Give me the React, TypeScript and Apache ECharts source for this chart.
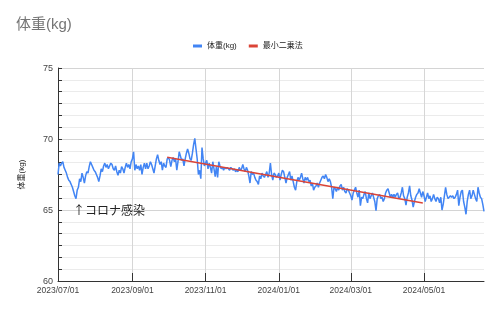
import React, { useEffect, useRef } from "react";
import * as echarts from "echarts";

// Daily body weight (kg), by month
const weightJul2023 = [67.5, 68.3, 68.1, 68.3, 68.4, 68.0, 67.8, 67.6, 67.3, 67.1, 67.0, 66.8, 66.6, 66.3, 66.0, 65.8, 66.4, 66.6, 67.2, 67.0, 67.6, 67.3, 66.9, 67.4, 67.7, 67.6, 68.05, 68.4, 68.2, 68.0, 67.8];
const weightAug2023 = [67.7, 67.5, 67.3, 67.0, 67.4, 67.9, 67.7, 68.1, 68.3, 68.0, 68.2, 67.9, 68.1, 68.3, 68.2, 67.9, 67.8, 68.1, 67.7, 67.45, 67.8, 67.6, 68.05, 67.9, 67.6, 68.0, 68.3, 68.0, 68.2, 67.9, 68.4];
const weightSep2023 = [68.6, 69.1, 67.8, 68.2, 67.9, 68.1, 67.8, 68.2, 67.5, 68.0, 68.3, 67.9, 68.3, 67.9, 68.1, 68.4, 68.2, 67.9, 67.6, 68.1, 68.6, 68.9, 68.5, 68.2, 68.4, 67.8, 68.3, 68.1, 68.0, 68.6];
const weightOct2023 = [68.7, 68.5, 68.05, 68.5, 68.7, 68.4, 68.6, 67.8, 68.4, 69.1, 68.8, 68.5, 68.6, 68.1, 68.6, 69.0, 69.3, 69.0, 68.6, 68.5, 69.0, 69.6, 70.05, 69.3, 68.6, 67.5, 67.8, 67.2, 69.4, 68.6, 68.1];
const weightNov2023 = [68.3, 68.5, 67.9, 68.3, 68.0, 67.6, 68.4, 67.9, 67.35, 68.05, 67.3, 68.4, 68.1, 67.9, 68.0, 67.8, 68.0, 67.9, 68.0, 67.9, 67.8, 68.0, 67.9, 67.8, 67.9, 67.7, 67.8, 67.7, 68.0, 67.8];
const weightDec2023 = [67.9, 68.2, 67.9, 67.7, 68.0, 67.8, 67.4, 66.9, 67.7, 67.5, 67.6, 67.3, 67.1, 67.0, 66.8, 67.4, 67.2, 67.6, 67.4, 67.3, 67.5, 67.7, 67.3, 67.6, 68.3, 67.5, 67.1, 67.6, 67.5, 67.3, 67.4];
const weightJan2024 = [67.6, 67.1, 67.5, 67.8, 67.7, 67.3, 66.9, 67.3, 67.5, 67.7, 67.1, 67.4, 67.0, 66.6, 66.4, 67.0, 67.3, 67.1, 67.3, 67.6, 67.2, 66.9, 67.3, 67.1, 67.3, 67.0, 67.1, 66.7, 66.9, 66.4, 66.6];
const weightFeb2024 = [66.7, 66.9, 66.6, 66.9, 67.1, 67.3, 67.4, 67.2, 67.5, 67.3, 67.0, 67.2, 67.0, 66.6, 65.8, 66.6, 66.5, 66.3, 66.6, 66.4, 66.7, 66.8, 66.4, 66.6, 66.3, 66.2, 66.5, 66.4, 66.2];
const weightMar2024 = [66.0, 65.7, 66.2, 66.4, 66.6, 66.2, 65.9, 66.4, 65.3, 65.9, 65.8, 66.1, 66.3, 65.8, 65.5, 66.2, 65.8, 66.0, 66.2, 65.9, 65.6, 64.95, 65.8, 66.0, 66.1, 65.8, 65.9, 65.6, 65.8, 66.2, 66.4];
const weightApr2024 = [66.5, 66.2, 65.9, 66.1, 65.9, 66.1, 65.9, 66.1, 66.2, 65.8, 65.9, 66.2, 66.6, 66.0, 65.8, 65.35, 65.9, 66.2, 66.7, 66.0, 65.7, 65.2, 65.6, 65.9, 66.1, 66.2, 66.5, 66.2, 65.9, 66.3];
const weightMay2024 = [66.0, 65.6, 65.9, 66.2, 65.8, 66.0, 65.6, 65.8, 66.1, 65.8, 65.6, 65.9, 65.8, 65.5, 65.9, 65.0, 65.4, 66.0, 66.6, 66.1, 65.8, 65.9, 66.0, 65.9, 66.0, 65.8, 65.9, 66.1, 66.4, 65.3, 65.9];
const weightJun2024 = [66.3, 66.4, 65.6, 65.2, 64.7, 65.6, 66.1, 66.4, 65.8, 66.0, 66.4, 66.1, 65.8, 65.6, 66.6, 66.2, 65.9, 65.8, 65.4, 64.9];

// [year, monthIndex, values]
const months: [number, number, number[]][] = [
  [2023, 6, weightJul2023],
  [2023, 7, weightAug2023],
  [2023, 8, weightSep2023],
  [2023, 9, weightOct2023],
  [2023, 10, weightNov2023],
  [2023, 11, weightDec2023],
  [2024, 0, weightJan2024],
  [2024, 1, weightFeb2024],
  [2024, 2, weightMar2024],
  [2024, 3, weightApr2024],
  [2024, 4, weightMay2024],
  [2024, 5, weightJun2024],
];

// Least squares trend endpoints
const trendDates = ["2023-09-30", "2024-04-30"];
const trendValues = [68.72, 65.5];

// X tick labels
const xTickDates = ["2023-07-01", "2023-09-01", "2023-11-01", "2024-01-01", "2024-03-01", "2024-05-01"];

// Annotation
const noteText = "↑コロナ感染";
const noteDate = "2023-07-13T12:00:00";
const noteValue = 65.07;

const ts = (s: string) => {
  const [d, t] = s.split("T");
  const [y, m, dd] = d.split("-").map(Number);
  let h = 0;
  if (t) h = Number(t.split(":")[0]);
  return new Date(y, m - 1, dd, h).getTime();
};

const pad = (n: number) => (n < 10 ? "0" + n : "" + n);

export default function App() {
  const ref = useRef<HTMLDivElement>(null);
  useEffect(() => {
    if (!ref.current) return;
    const chart = echarts.init(ref.current, undefined, { renderer: "svg" });
    const weightData: [number, number][] = [];
    months.forEach(([y, m, vals]) => {
      vals.forEach((v, i) => weightData.push([new Date(y, m, i + 1).getTime(), v]));
    });
    const trendData = trendDates.map((d, i) => [ts(d), trendValues[i]]);
    const ticks = xTickDates.map(ts);
    const font = "'Liberation Sans', Arial, 'Noto Sans CJK JP', sans-serif";

    chart.setOption({
      animation: false,
      textStyle: { fontFamily: font },
      title: {
        text: "体重(kg)",
        left: 16,
        top: 16,
        padding: 0,
        textStyle: { fontSize: 15, fontWeight: "normal", color: "#757575", fontFamily: font },
      },
      legend: {
        left: 193,
        top: 42,
        padding: 0,
        itemWidth: 9,
        itemHeight: 3,
        itemGap: 12,
        icon: "rect",
        textStyle: { fontSize: 8, color: "#222", fontFamily: font },
        data: ["体重(kg)", "最小二乗法"],
      },
      grid: { left: 58, right: 16, top: 68, bottom: 31 },
      xAxis: {
        type: "value",
        min: weightData[0][0],
        max: weightData[weightData.length - 1][0],
        axisLine: { show: true, lineStyle: { color: "#333", width: 1 } },
        axisTick: { show: true, inside: true, length: 8, customValues: ticks, lineStyle: { color: "#333" } },
        axisLabel: {
          customValues: ticks,
          fontSize: 8.5,
          color: "#444",
          margin: 5,
          fontFamily: font,
          formatter: (v: number) => {
            const d = new Date(v);
            return d.getFullYear() + "/" + pad(d.getMonth() + 1) + "/" + pad(d.getDate());
          },
        },
        splitLine: { show: true, lineStyle: { color: "#d6d6d6", width: 1 } },
      },
      yAxis: {
        type: "value",
        min: 60,
        max: 75,
        interval: 5,
        name: "体重(kg)",
        nameLocation: "middle",
        nameGap: 33,
        nameRotate: 90,
        nameTextStyle: { fontSize: 8, color: "#222", fontFamily: font },
        axisLine: { show: true, lineStyle: { color: "#333", width: 1 } },
        axisTick: { show: true, inside: true, length: 4, lineStyle: { color: "#333" } },
        minorTick: { show: true, splitNumber: 6, length: 4, lineStyle: { color: "#333" } },
        axisLabel: { fontSize: 9, color: "#444", margin: 5, fontFamily: font },
        splitLine: { show: true, lineStyle: { color: "#d4d4d4", width: 1 } },
        minorSplitLine: { show: true, lineStyle: { color: "#ebebeb", width: 1 } },
      },
      series: [
        {
          name: "体重(kg)",
          type: "line",
          data: weightData,
          showSymbol: false,
          symbol: "none",
          itemStyle: { color: "#4285F4" },
          lineStyle: { color: "#4285F4", width: 1.5 },
          markPoint: {
            symbol: "circle",
            symbolSize: 0,
            silent: true,
            data: [
              {
                coord: [ts(noteDate), noteValue],
                label: {
                  show: true,
                  position: "right",
                  distance: 0,
                  formatter: noteText,
                  fontSize: 12,
                  color: "#222",
                  fontFamily: "'Noto Sans CJK JP', sans-serif",
                },
              },
            ],
          },
        },
        {
          name: "最小二乗法",
          type: "line",
          data: trendData,
          showSymbol: false,
          symbol: "none",
          itemStyle: { color: "#DB4437" },
          lineStyle: { color: "#DB4437", width: 1.5 },
        },
      ],
    });
    return () => chart.dispose();
  }, []);
  return <div ref={ref} style={{ position: "fixed", left: 0, top: 0, width: 500, height: 312 }} />;
}
